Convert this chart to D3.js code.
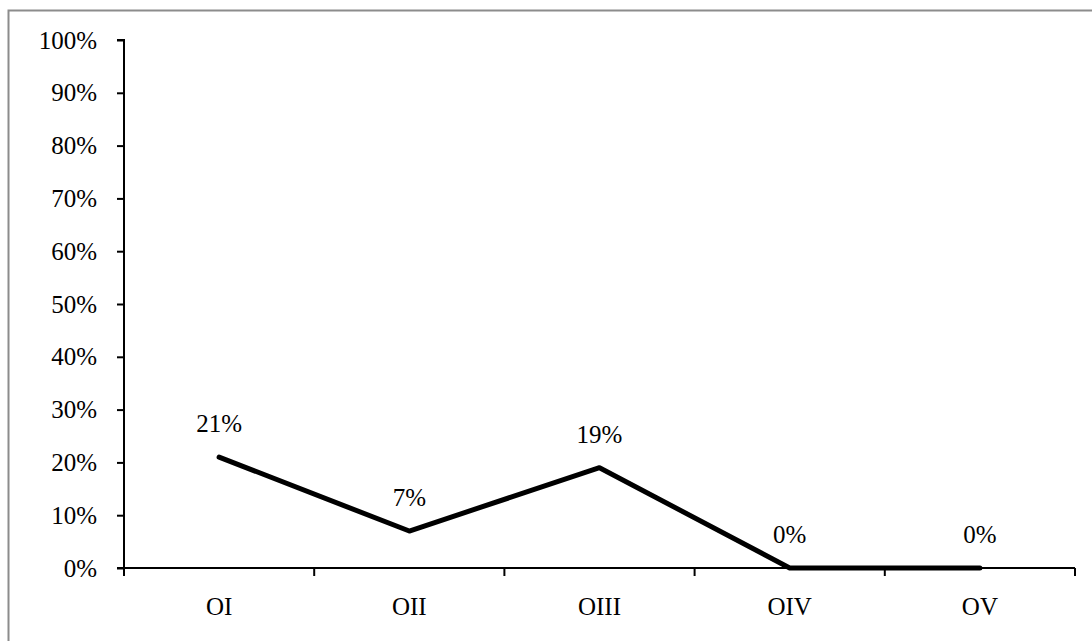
<!DOCTYPE html>
<html>
<head>
<meta charset="utf-8">
<script src="https://cdn.jsdelivr.net/npm/d3@7/dist/d3.min.js"></script>
<style>
  html, body { margin: 0; padding: 0; background: #fff; }
  svg { display: block; }
  text { font-family: "Liberation Serif", "Times New Roman", serif; fill: #000; }
</style>
</head>
<body>
<svg id="chart" width="1092" height="641"></svg>
<script>
// Categories and their shares (percent)
const categories = ["OI", "OII", "OIII", "OIV", "OV"];
const values = [21, 7, 19, 0, 0];
const yTicks = [0, 10, 20, 30, 40, 50, 60, 70, 80, 90, 100];

const svg = d3.select("#chart");
const margin = { left: 124, right: 1075, top: 40, bottom: 568 };
const fontSize = "25px";

// Outer frame
svg.append("rect")
  .attr("x", 8.5).attr("y", 10.5)
  .attr("width", 1100).attr("height", 700)
  .attr("fill", "none")
  .attr("stroke", "#8c8c8c")
  .attr("stroke-width", 2);

const x = d3.scaleBand().domain(categories).range([margin.left, margin.right]);
const y = d3.scaleLinear().domain([0, 100]).range([margin.bottom, margin.top]);

// Y axis
const yAxis = svg.append("g")
  .attr("transform", `translate(${margin.left},0)`)
  .call(d3.axisLeft(y).tickValues(yTicks).tickSize(7).tickPadding(20).tickFormat(d => d + "%"));
yAxis.select(".domain").attr("stroke", "#000").attr("stroke-width", 2).attr("d", `M-7,${y(100)}H0V${y(0)}`);
yAxis.selectAll(".tick line").attr("stroke", "#000").attr("stroke-width", 2);
yAxis.selectAll(".tick text")
  .style("font-family", '"Liberation Serif", "Times New Roman", serif')
  .style("font-size", fontSize).attr("fill", "#000");

// X axis with ticks at category boundaries
const xAxis = svg.append("g")
  .attr("transform", `translate(0,${margin.bottom})`);
xAxis.append("line")
  .attr("x1", margin.left - 7).attr("x2", margin.right)
  .attr("stroke", "#000").attr("stroke-width", 2);
const bounds = categories.map(c => x(c)).concat([x(categories[categories.length - 1]) + x.bandwidth()]);
xAxis.selectAll("line.tick").data(bounds).enter().append("line")
  .attr("class", "tick")
  .attr("x1", d => d).attr("x2", d => d)
  .attr("y1", 0).attr("y2", 8)
  .attr("stroke", "#000").attr("stroke-width", 2);
xAxis.selectAll("text.cat").data(categories).enter().append("text")
  .attr("class", "cat")
  .attr("x", d => x(d) + x.bandwidth() / 2)
  .attr("y", 47)
  .attr("text-anchor", "middle")
  .style("font-size", fontSize)
  .text(d => d);

// Data line
const cx = d => x(d) + x.bandwidth() / 2;
const line = d3.line().x((d, i) => cx(categories[i])).y(d => y(d));
svg.append("path")
  .datum(values)
  .attr("d", line)
  .attr("fill", "none")
  .attr("stroke", "#000")
  .attr("stroke-width", 5)
  .attr("stroke-linejoin", "round")
  .attr("stroke-linecap", "round");

// Value labels
svg.selectAll("text.val").data(values).enter().append("text")
  .attr("class", "val")
  .attr("x", (d, i) => cx(categories[i]))
  .attr("y", d => y(d) - 25)
  .attr("text-anchor", "middle")
  .style("font-size", fontSize)
  .text(d => d + "%");
</script>
</body>
</html>
